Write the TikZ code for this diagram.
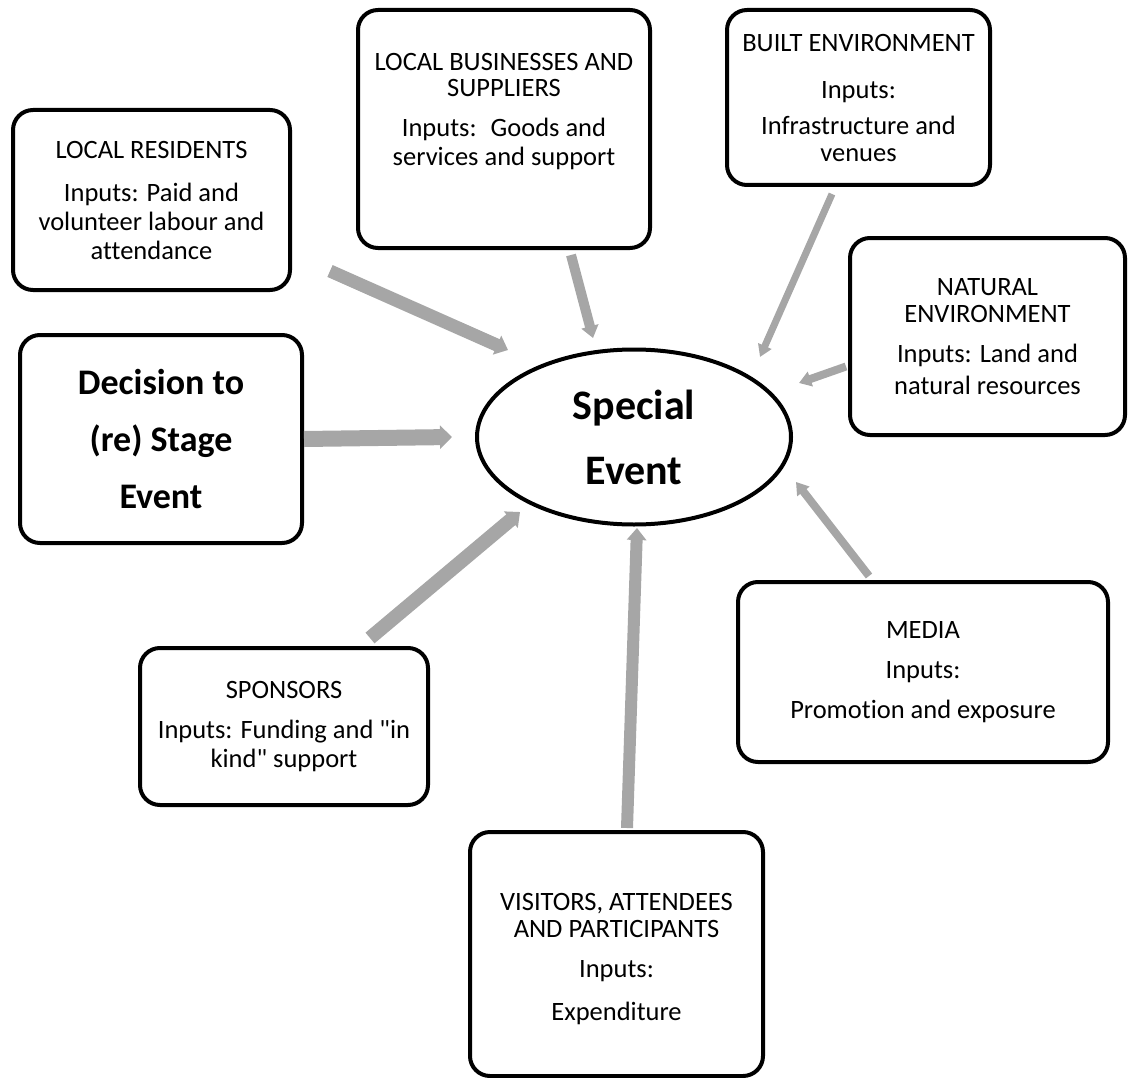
\documentclass[tikz,border=0pt]{standalone}
\usepackage{fontspec}
\setmainfont{Carlito}[Ligatures={TeXOff,NoCommon}]
\usetikzlibrary{arrows.meta,shapes.geometric,calc}
\definecolor{arrowgrey}{RGB}{166,166,166}
\tikzset{
  box/.style={draw=black, line width=4pt, rounded corners=20pt, fill=white,
    align=center, inner sep=0pt, font=\fontsize{26.5}{29}\selectfont},
  boxtext/.style={align=center, inner sep=0pt, font=\fontsize{26.5}{29}\selectfont},
  bigbox/.style={box, font=\bfseries\fontsize{36}{57}\selectfont},
  hub/.style={ellipse, draw=black, line width=4pt, fill=white, align=center,
    inner sep=0pt, font=\bfseries\fontsize{42}{65}\selectfont},
  feed/.style={draw=arrowgrey, line width=#1pt,
    -{Triangle[length=12pt, width=7pt 1]}},
}
\begin{document}
\begin{tikzpicture}[x=1pt,y=-1pt]
\useasboundingbox (0,0) rectangle (1129,1078);

% central event
\node[hub, minimum width=314pt, minimum height=175pt] (event) at (634,437)
  {Special\\Event};

% contributing stakeholders
\node[box, minimum width=277pt, minimum height=180pt] (res) at (151.5,200)
  {LOCAL RESIDENTS\\[14pt]Inputs: Paid and\\volunteer labour and\\attendance};

\node[box, minimum width=292pt, minimum height=238pt] (biz) at (504,129) {};
\node[boxtext, anchor=north] (biztext) at (504,53)
  {LOCAL BUSINESSES AND\\[-3pt]SUPPLIERS\\[11pt]Inputs:~ Goods and\\services and support};

\node[box, minimum width=263pt, minimum height=175pt] (built) at (858.5,97.5)
  {BUILT ENVIRONMENT\\[18pt]Inputs:\\[7pt]Infrastructure and\\[-2pt]venues};

\node[box, minimum width=275pt, minimum height=197pt] (nat) at (987.5,336.5)
  {NATURAL\\[-2pt]ENVIRONMENT\\[11pt]Inputs: Land and\\[3pt]natural resources};

\node[bigbox, minimum width=282pt, minimum height=208pt] (dec) at (161,439)
  {Decision to\\(re) Stage\\Event};

\node[box, minimum width=370pt, minimum height=180pt] (media) at (923,672)
  {MEDIA\\[11pt]Inputs:\\[11pt]Promotion and exposure};

\node[box, minimum width=288pt, minimum height=157pt] (spon) at (284,726.5)
  {SPONSORS\\[11pt]Inputs: Funding and "in\\kind" support};

\node[box, minimum width=293pt, minimum height=244pt] (vis) at (616.5,954) {};
\node[boxtext, anchor=north] (vistext) at (616.5,893)
  {VISITORS, ATTENDEES\\[-2pt]AND PARTICIPANTS\\[11pt]Inputs:\\[14pt]Expenditure};

% inputs flowing into the event
\draw[feed=13] ($(res.south east)+(38,-21)$) -- ($(event.center)+(-126,-87)$);
\draw[feed=10] ($(biz.south)+(67,5)$) -- ($(event.center)+(-41,-99)$);
\draw[feed=7] ($(built.south west)+(107,7)$) -- ($(event.center)+(126,-80)$);
\draw[feed=8] ($(nat.west)+(-2,30)$) -- ($(event.center)+(165,-54)$);
\draw[feed=16] (dec.east) -- ($(event.center)+(-182,0)$);
\draw[feed=14] ($(spon.north)+(86,-8)$) -- ($(event.center)+(-114,75)$);
\draw[feed=12] ($(vis.north)+(10.5,-2)$) -- ($(event.center)+(3,91)$);
\draw[feed=8] ($(media.north)+(-54,-4)$) -- ($(event.center)+(162,45)$);
\end{tikzpicture}
\end{document}
